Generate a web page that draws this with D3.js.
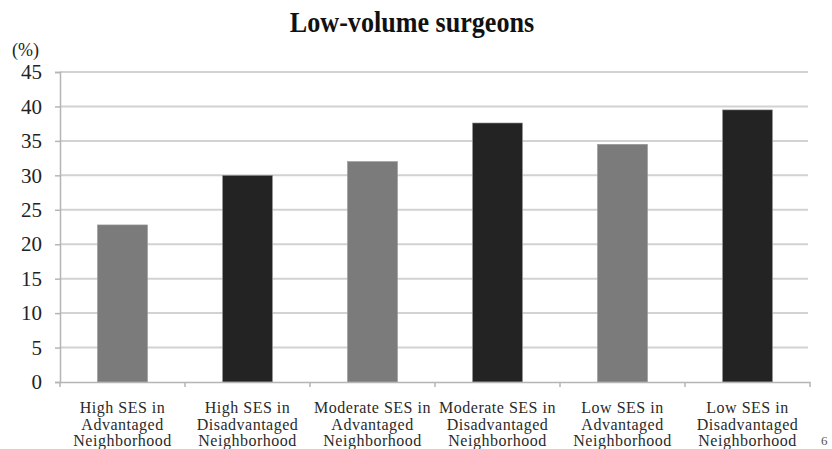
<!DOCTYPE html>
<html><head><meta charset="utf-8">
<script src="https://cdn.jsdelivr.net/npm/d3@7"></script>
<style>body{margin:0;background:#fff}svg{display:block}</style>
</head><body>
<script>
const categories = [
  ["High SES in","Advantaged","Neighborhood"],
  ["High SES in","Disadvantaged","Neighborhood"],
  ["Moderate SES in","Advantaged","Neighborhood"],
  ["Moderate SES in","Disadvantaged","Neighborhood"],
  ["Low SES in","Advantaged","Neighborhood"],
  ["Low SES in","Disadvantaged","Neighborhood"]
];
const values = [22.8, 30.0, 32.0, 37.6, 34.5, 39.5];
const groups = ["Advantaged","Disadvantaged","Advantaged","Disadvantaged","Advantaged","Disadvantaged"];
const yTicks = [0,5,10,15,20,25,30,35,40,45];
const title = "Low-volume surgeons";

const W=832,H=449;
const svg=d3.select("body").append("svg").attr("width",W).attr("height",H);
const font='"Liberation Serif","Times New Roman",serif';
const x0=60,x1=810,yTop=72,yBot=382;
const x=d3.scaleBand().domain(d3.range(categories.length)).range([x0,x1]).paddingInner(0.6).paddingOuter(0.3);
const xb=d3.scaleBand().domain(d3.range(categories.length)).range([x0,x1]);
const y=d3.scaleLinear().domain([0,45]).range([yBot,yTop]);
const color=d3.scaleOrdinal().domain(["Advantaged","Disadvantaged"]).range(["#7b7b7b","#232323"]);

// gridlines
svg.append("g").selectAll("line").data(yTicks.filter(d=>d>0)).join("line")
  .attr("x1",x0).attr("x2",x1-2).attr("y1",d=>y(d)).attr("y2",d=>y(d))
  .attr("stroke","#d2d2d2").attr("stroke-width",2);

// y axis
const ya=svg.append("g").attr("transform",`translate(${x0},0)`)
  .call(d3.axisLeft(y).tickValues(yTicks).tickSize(5).tickPadding(13));
ya.select(".domain").attr("stroke","#b5b5b5").attr("stroke-width",1.5);
ya.selectAll(".tick line").attr("stroke","#b5b5b5").attr("stroke-width",1.5);
ya.selectAll("text").attr("font-family",font).attr("font-size",21).attr("fill","#222");

// bars
svg.append("g").selectAll("rect").data(values).join("rect")
  .attr("x",(d,i)=>x(i)).attr("width",x.bandwidth())
  .attr("y",d=>y(d)).attr("height",d=>yBot-y(d))
  .attr("fill",(d,i)=>color(groups[i]))
  .attr("stroke","#999").attr("stroke-width",0.6);

// x axis
const xa=svg.append("g").attr("transform",`translate(0,${yBot})`)
  .call(d3.axisBottom(xb).tickSize(0).tickFormat(""));
xa.select(".domain").attr("stroke","#b5b5b5").attr("stroke-width",1.5);
svg.append("g").selectAll("line").data(d3.range(categories.length+1)).join("line")
  .attr("x1",i=>x0+i*xb.step()).attr("x2",i=>x0+i*xb.step())
  .attr("y1",yBot).attr("y2",yBot+5).attr("stroke","#b5b5b5").attr("stroke-width",1.5);

// x labels
const lab=svg.append("g").selectAll("text").data(categories).join("text")
  .attr("font-family",font).attr("font-size",16).attr("letter-spacing",0.5).attr("fill","#2a2a2a")
  .attr("text-anchor","middle");
lab.each(function(d,i){
  const t=d3.select(this);
  d.forEach((s,j)=>t.append("tspan").attr("x",xb(i)+xb.bandwidth()/2).attr("y",413+j*16.5).text(s));
});

// title & unit
svg.append("text").attr("transform","translate(412,32) scale(0.87,1)").attr("text-anchor","middle")
  .attr("font-family",font).attr("font-weight","bold").attr("font-size",30).attr("fill","#111").text(title);
svg.append("text").attr("x",12).attr("y",56).attr("font-family",font).attr("font-size",18).attr("fill","#222").text("(%)");
svg.append("text").attr("x",821).attr("y",445).attr("font-family",font).attr("font-size",13).attr("fill","#555").text("6");
</script>
</body></html>
